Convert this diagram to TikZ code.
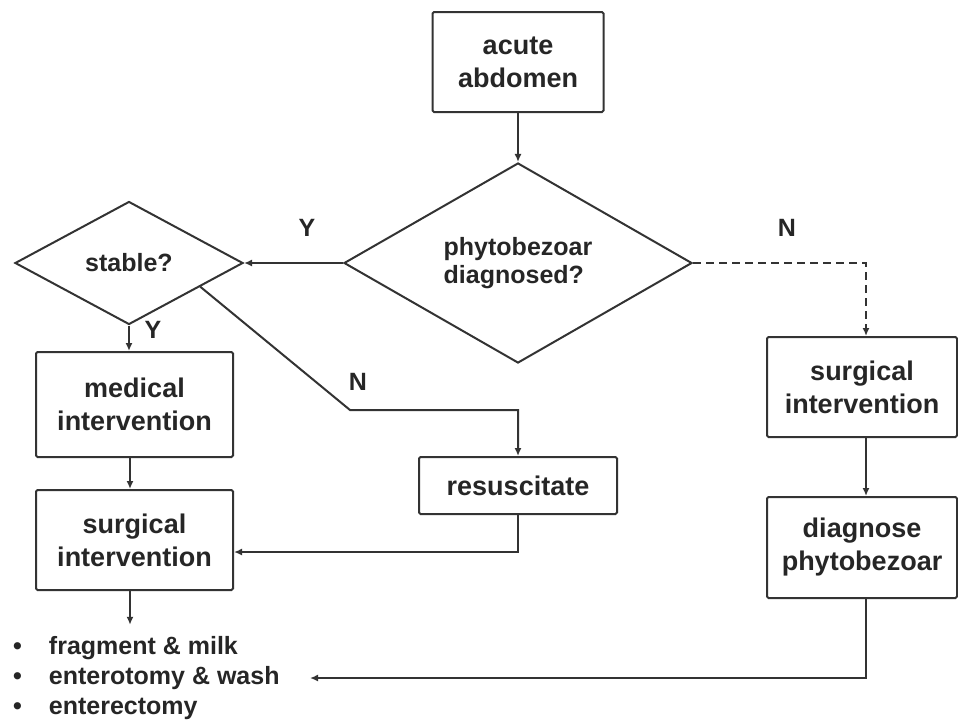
\documentclass[tikz,border=0pt]{standalone}
\usepackage{fontspec}
\setmainfont{Liberation Sans}
\usetikzlibrary{shapes.geometric,arrows.meta,calc}
\begin{document}
\begin{tikzpicture}[x=1pt,y=-1pt,
  line/.style={draw=black!80, line width=2pt},
  arr/.style={line, -{Latex[length=8pt,width=7pt]}},
  box/.style={draw=black!80, line width=2pt, rounded corners=1.5pt, inner sep=0pt, align=center, font=\fontsize{27}{33}\selectfont\bfseries, text=black!85},
  dia/.style={diamond, draw=black!80, line width=2pt, inner sep=0pt, align=left, font=\fontsize{25}{28}\selectfont\bfseries, text=black!85},
  lbl/.style={font=\fontsize{25}{30}\selectfont\bfseries, text=black!85},
  ]
\useasboundingbox (0,0) rectangle (958,726);
\node[box, minimum width=171pt, minimum height=100pt] (acute) at (518,62) {acute\\abdomen};
\node[dia, minimum width=348pt, minimum height=177pt] (phyto) at (518,263) {phytobezoar\\diagnosed?};
\node[dia, minimum width=228pt, minimum height=123pt] (stable) at (129,263) {stable?};
\node[box, minimum width=197pt, minimum height=105pt] (med) at (134.5,404.5) {medical\\intervention};
\node[box, minimum width=197pt, minimum height=100pt] (surgL) at (134.5,540) {surgical\\intervention};
\node[box, minimum width=198pt, minimum height=57pt] (resus) at (518,485.5) {resuscitate};
\node[box, minimum width=190pt, minimum height=100pt] (surgR) at (862,387) {surgical\\intervention};
\node[box, minimum width=190pt, minimum height=101pt] (diag) at (862,547.5) {diagnose\\phytobezoar};
\node[anchor=west, inner sep=0pt, font=\fontsize{25}{30}\selectfont\bfseries, text=black!85] (list) at (13,678)
  {\begin{tabular}{@{}l@{\hspace{27pt}}l@{}}\textbullet & fragment \& milk\\ \textbullet & enterotomy \& wash\\ \textbullet & enterectomy\end{tabular}};

\node[lbl] (ly1) at (307,228) {Y};
\node[lbl] (ly2) at (153,330) {Y};
\node[lbl] (ln1) at (358,382) {N};
\node[lbl] (ln2) at (787,228) {N};

\coordinate (nbend) at (350,410);
\coordinate (rjoin) at (518,552);
\coordinate (ncol) at (866,0);
\coordinate (listend) at (310,678);
\coordinate (lcol) at (130,0);

\draw[arr] (acute.south) -- (phyto.north);
\draw[arr] (phyto.west) -- (stable.east);
\draw[arr] (stable.south) -- (stable.south |- med.north);
\draw[arr] (med.south -| lcol) -- (surgL.north -| lcol);
\draw[arr] (surgL.south -| lcol) -- ($(lcol |- list.north)+(0,-8)$);
\draw[arr] ($(stable.east)!0.38!(stable.south)$) -- (nbend) -| (resus.north);
\draw[arr] (resus.south) -- (resus.south |- rjoin) -- (surgL.east |- rjoin);
\draw[arr, dash pattern=on 8pt off 5pt] (phyto.east) -| (surgR.north -| ncol);
\draw[arr] (surgR.south -| ncol) -- (diag.north -| ncol);
\draw[arr] (diag.south -| ncol) |- (listend);
\end{tikzpicture}
\end{document}
